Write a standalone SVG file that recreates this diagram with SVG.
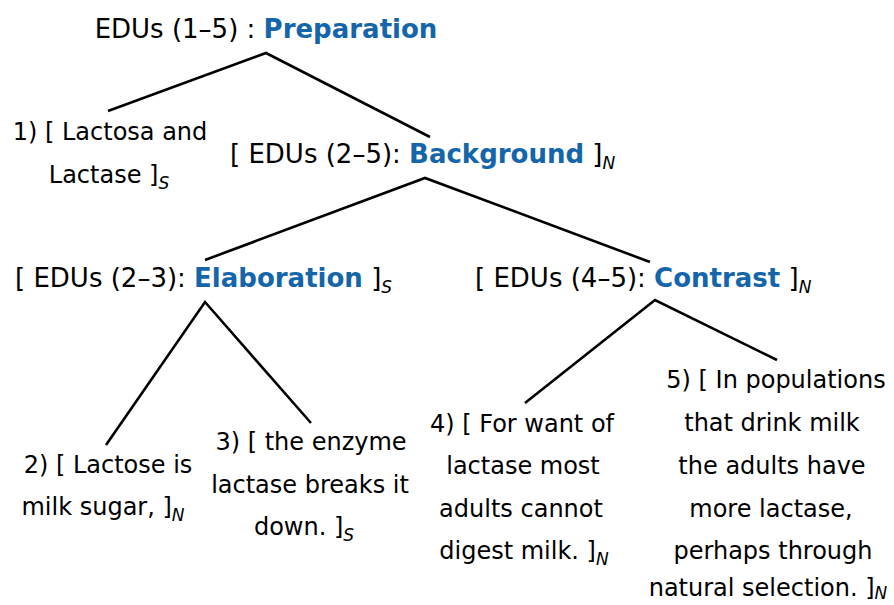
<svg xmlns="http://www.w3.org/2000/svg" width="894" height="605" viewBox="0 0 894 605">
<style>
.n{font-family:"DejaVu Sans",sans-serif;font-size:26px;fill:#000}
.r{font-weight:bold;fill:#1565ab}
.l{font-family:"DejaVu Sans",sans-serif;font-size:24px;fill:#000;text-anchor:middle}
.sub{font-style:italic;font-size:17px}
.e{stroke:#000;stroke-width:2.6;fill:none;stroke-linecap:butt}
</style>
<rect width="894" height="605" fill="#fff"/>
<g id="connectors">
<path class="e" d="M108,111 L266,53 L430,137"/>
<path class="e" d="M205,260 L425,178 L650,262"/>
<path class="e" d="M106,445 L205,302 L311,423"/>
<path class="e" d="M525,403 L655,300 L777,360"/>
</g>
<g id="root"><text class="n" x="266" y="38" text-anchor="middle">EDUs (1–5) : <tspan class="r">Preparation</tspan></text></g>
<g id="background"><text class="n" x="230" y="163">[ EDUs (2–5): <tspan class="r">Background</tspan> ]<tspan class="sub" dy="6">N</tspan></text></g>
<g id="elaboration"><text class="n" x="15" y="287">[ EDUs (2–3): <tspan class="r">Elaboration</tspan> ]<tspan class="sub" dy="6">S</tspan></text></g>
<g id="contrast"><text class="n" x="475" y="287">[ EDUs (4–5): <tspan class="r">Contrast</tspan> ]<tspan class="sub" dy="6">N</tspan></text></g>
<g id="edu1">
<text class="l" x="110" y="140">1) [ Lactosa and</text>
<text class="l" x="109" y="183">Lactase ]<tspan class="sub" dy="6">S</tspan></text>
</g>
<g id="edu2">
<text class="l" x="108" y="473">2) [ Lactose is</text>
<text class="l" x="103" y="515">milk sugar, ]<tspan class="sub" dy="6">N</tspan></text>
</g>
<g id="edu3">
<text class="l" x="311" y="450">3) [ the enzyme</text>
<text class="l" x="310" y="493">lactase breaks it</text>
<text class="l" x="304" y="535">down. ]<tspan class="sub" dy="6">S</tspan></text>
</g>
<g id="edu4">
<text class="l" x="522" y="432">4) [ For want of</text>
<text class="l" x="523" y="474">lactase most</text>
<text class="l" x="521" y="517">adults cannot</text>
<text class="l" x="524" y="559">digest milk. ]<tspan class="sub" dy="6">N</tspan></text>
</g>
<g id="edu5">
<text class="l" x="776" y="388">5) [ In populations</text>
<text class="l" x="772" y="431">that drink milk</text>
<text class="l" x="772" y="474">the adults have</text>
<text class="l" x="771" y="517">more lactase,</text>
<text class="l" x="773" y="559">perhaps through</text>
<text class="l" x="768" y="596">natural selection. ]<tspan class="sub" dy="3">N</tspan></text>
</g>
</svg>
